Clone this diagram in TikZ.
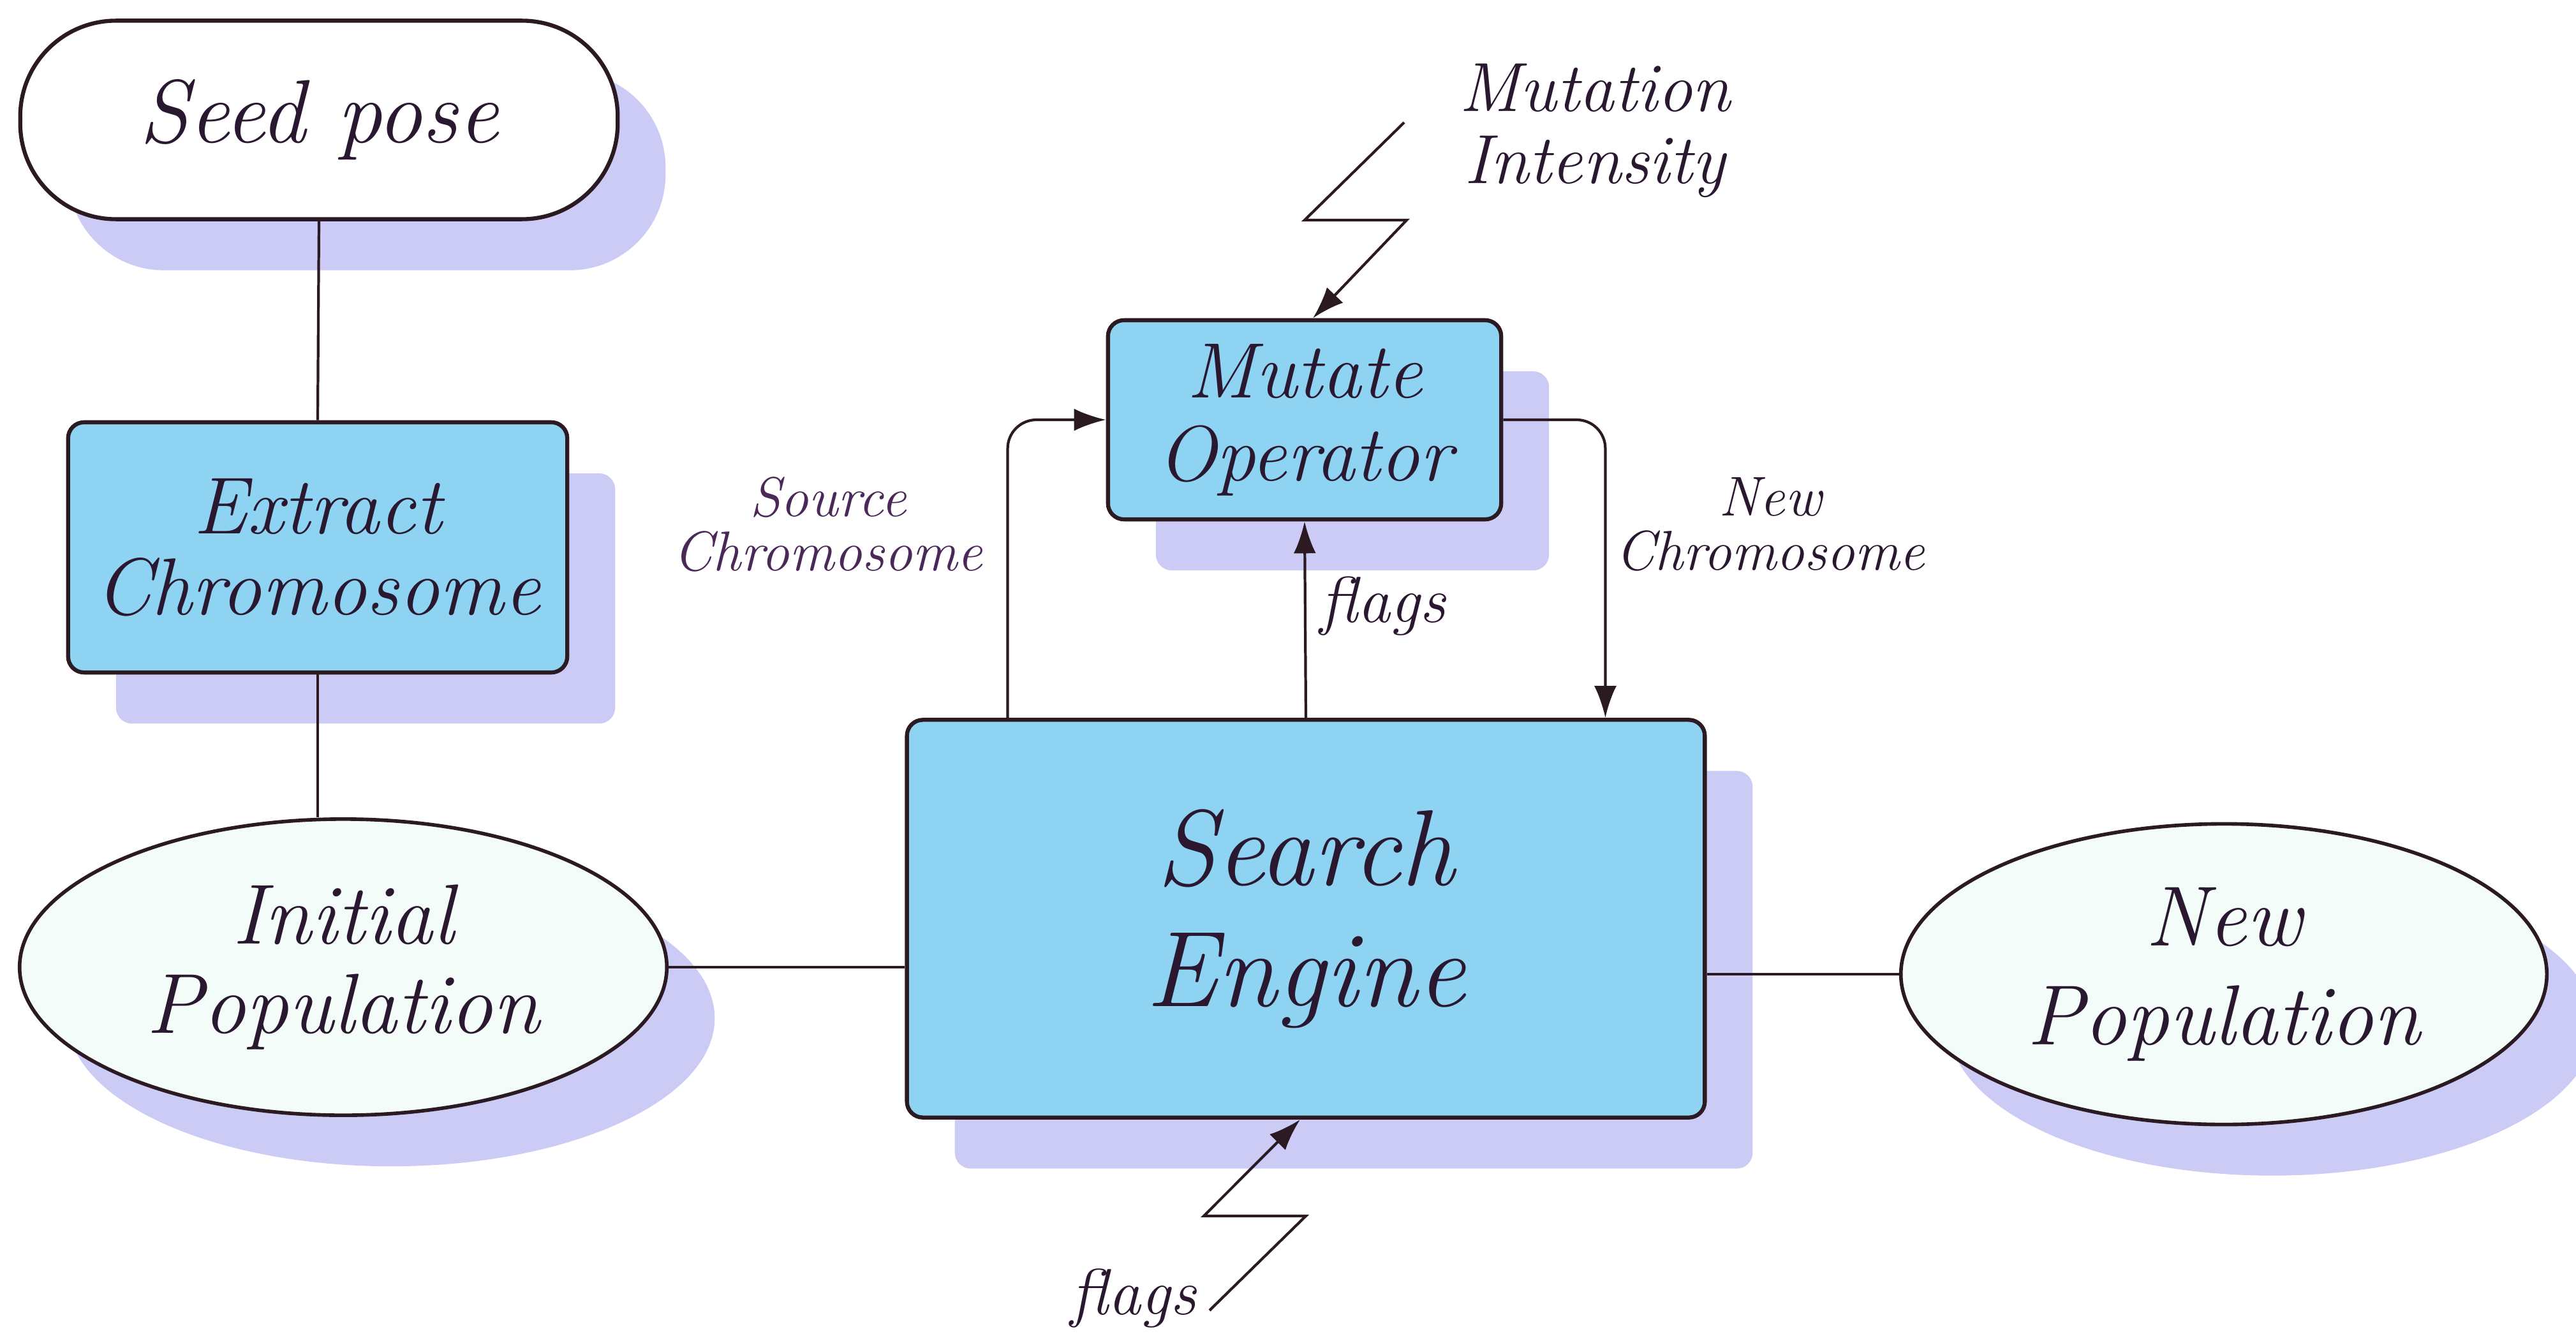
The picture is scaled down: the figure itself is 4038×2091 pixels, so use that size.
\documentclass[tikz,border=0pt]{standalone}
\usetikzlibrary{arrows.meta,shadows,shapes.geometric,calc}
\newcommand\fsz[2]{\itshape\fontsize{#1}{#2}\selectfont}
\definecolor{boxc}{HTML}{8ED3F2}
\definecolor{shadc}{HTML}{CCCBF5}
\definecolor{ellc}{HTML}{F4FCFA}
\definecolor{bordc}{HTML}{2B1A22}
\definecolor{txtc}{HTML}{2A1830}
\definecolor{srcc}{HTML}{4A2858}
\tikzset{
  shad/.style={drop shadow={shadow xshift=0.75cm, shadow yshift=-0.8cm, fill=shadc, opacity=1}},
  box/.style={draw=bordc, line width=1.8pt, fill=boxc, rounded corners=0.25cm, shad, align=center, text=txtc, inner sep=0pt},
  ell/.style={ellipse, draw=bordc, line width=1.6pt, fill=ellc, shad, align=center, text=txtc, inner sep=0pt},
  seedbox/.style={draw=bordc, line width=1.8pt, fill=white, rounded corners=1.5cm, shad, align=center, text=txtc, inner sep=0pt},
  conn/.style={draw=bordc, line width=1.2pt},
  arr/.style={conn, -{Latex[length=5mm,width=3.5mm]}},
  lbl/.style={align=center, text=txtc, inner sep=0pt}
}
\begin{document}
\begin{tikzpicture}[x=0.01cm, y=-0.01cm]
\useasboundingbox (0,0) rectangle (4038,2091);
% nodes
\node[seedbox, minimum width=9.36cm, minimum height=3.11cm, font=\fsz{40}{46}] (seed) at (500,188) {Seed pose};
\node[box, minimum width=7.82cm, minimum height=3.92cm, font=\fsz{36}{36}] (ext) at (498,858) {Extract\\Chromosome};
\node[ell, minimum width=10.14cm, minimum height=4.64cm, font=\fsz{38}{40}] (init) at (538,1516) {Initial\\Population};
\node[box, minimum width=12.5cm, minimum height=6.23cm, font=\fsz{48}{54}] (search) at (2047,1440) {Search\\Engine};
\node[ell, minimum width=10.12cm, minimum height=4.71cm, font=\fsz{38}{44}] (newp) at (3486,1527) {New\\Population};
\node[box, minimum width=6.16cm, minimum height=3.12cm, font=\fsz{35}{37}] (mut) at (2045,658) {Mutate\\Operator};
% labels
\node[lbl, font=\fsz{31}{32}] (mi) at (2500,205) {Mutation\\Intensity};
\node[lbl, text=srcc, font=\fsz{25}{24}] (src) at (1298,822) {Source\\Chromosome};
\node[lbl, font=\fsz{25}{24}] (nc) at (2775,822) {New\\Chromosome};
\node[lbl, font=\fsz{29}{29}] (fl1) at (2168,950) {flags};
\node[lbl, font=\fsz{29}{29}] (fl2) at (1777,2035) {flags};
% free ends
\coordinate (z1) at (2201,192);
\coordinate (z2) at (1896,2054);
% connectors
\draw[conn] (seed.south) -- (ext.north);
\draw[conn] (ext.south) -- (ext.south |- init.north);
\draw[conn] (init.east) -- (init.east -| search.west);
\draw[conn] (newp.west) -- (newp.west -| search.east);
\draw[arr, rounded corners=0.45cm] ([xshift=1.61cm]search.north west) |- (mut.west);
\draw[arr] (search.north) -- (mut.south);
\draw[arr, rounded corners=0.45cm] (mut.east) -| ([xshift=-1.59cm]search.north east);
\draw[arr] (z1) -- (2045,345) -- (2205,345) -- ([xshift=0.13cm]mut.north);
\draw[arr] (z2) -- (2047,1906) -- (1887,1906) -- ([xshift=-0.09cm]search.south);
\end{tikzpicture}
\end{document}
